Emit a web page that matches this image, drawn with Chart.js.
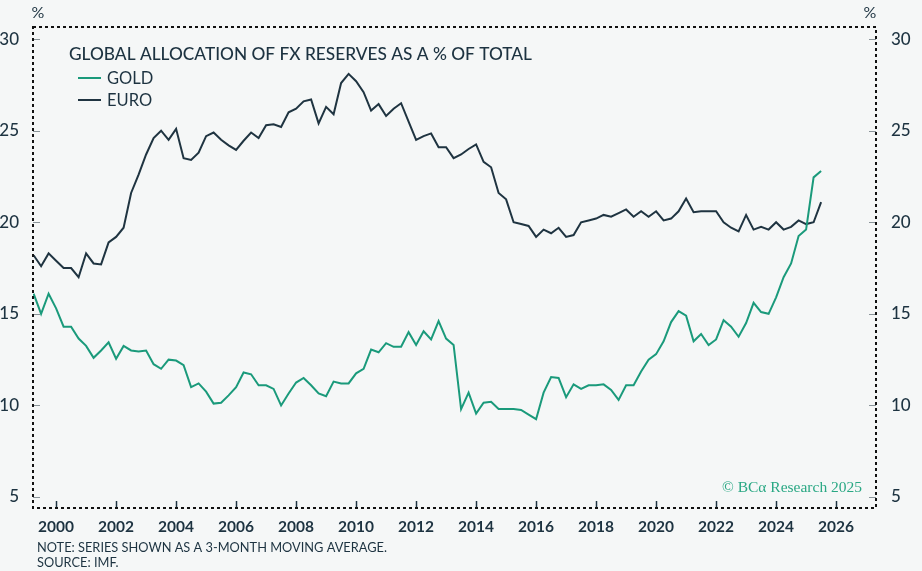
<!DOCTYPE html>
<html>
<head>
<meta charset="utf-8">
<script src="https://cdn.jsdelivr.net/npm/chart.js@4.4.1/dist/chart.umd.min.js"></script>
<style>
  html, body { margin: 0; padding: 0; background: #f5f7f7; }
  #wrap { width: 922px; height: 571px; position: relative; }
</style>
</head>
<body>
<div id="wrap"><canvas id="fxChart" width="922" height="571"></canvas></div>
<script>
// Quarterly points, first one at end of 1999Q1
const startYear = 1999.25;
const stepYears = 0.25;

const goldShare = [
  16.1, 15.0, 16.1,
  15.3, 14.3, 14.3, 13.65,
  13.25, 12.6, 13.0, 13.45,
  12.55, 13.25, 13.0, 12.95,
  13.0, 12.25, 12.0, 12.5,
  12.45, 12.2, 11.0, 11.2,
  10.75, 10.1, 10.15, 10.55,
  11.0, 11.8, 11.7, 11.1,
  11.1, 10.9, 10.0, 10.65,
  11.25, 11.5, 11.1, 10.65,
  10.5, 11.3, 11.2, 11.2,
  11.75, 12.0, 13.05, 12.9,
  13.4, 13.2, 13.2, 14.0,
  13.3, 14.05, 13.6, 14.6,
  13.65, 13.3, 9.8, 10.7,
  9.55, 10.15, 10.2, 9.8,
  9.8, 9.8, 9.75, 9.5,
  9.25, 10.7, 11.55, 11.5,
  10.45, 11.15, 10.9, 11.1,
  11.1, 11.15, 10.85, 10.3,
  11.1, 11.1, 11.85, 12.5,
  12.8, 13.5, 14.55, 15.15,
  14.9, 13.5, 13.9, 13.3,
  13.6, 14.65, 14.3, 13.75,
  14.5, 15.6, 15.1, 15.0,
  15.9, 17.0, 17.75, 19.25,
  19.6, 22.45, 22.8
];

const euroShare = [
  18.2, 17.6, 18.3,
  17.9, 17.5, 17.5, 17.0,
  18.3, 17.75, 17.7, 18.9,
  19.2, 19.7, 21.6, 22.6,
  23.7, 24.6, 25.0, 24.5,
  25.1, 23.5, 23.4, 23.8,
  24.7, 24.9, 24.5, 24.2,
  23.95, 24.45, 24.9, 24.6,
  25.3, 25.35, 25.2, 26.0,
  26.2, 26.6, 26.7, 25.4,
  26.3, 25.9, 27.6, 28.1,
  27.7, 27.1, 26.1, 26.45,
  25.8, 26.2, 26.5, 25.5,
  24.5, 24.7, 24.85, 24.1,
  24.1, 23.5, 23.7, 24.0,
  24.25, 23.3, 23.0, 21.6,
  21.25, 20.0, 19.9, 19.8,
  19.2, 19.6, 19.4, 19.7,
  19.2, 19.3, 20.0, 20.1,
  20.2, 20.4, 20.3, 20.5,
  20.7, 20.3, 20.6, 20.3,
  20.6, 20.1, 20.2, 20.6,
  21.3, 20.55, 20.6, 20.6,
  20.6, 20.0, 19.7, 19.5,
  20.4, 19.6, 19.75, 19.6,
  20.0, 19.6, 19.75, 20.1,
  19.9, 20.0, 21.1
];

const xTicks = [2000, 2002, 2004, 2006, 2008, 2010, 2012, 2014, 2016, 2018, 2020, 2022, 2024, 2026];
const yTicks = [5, 10, 15, 20, 25, 30];

const GOLD = "#1a9a7b";
const EURO = "#1f3441";
const INK = "#1d3341";
const FONT = "Lato, 'Open Sans', sans-serif";

const toPoints = arr => arr.map((v, i) => ({ x: startYear + i * stepYears, y: v }));

// frame, inward ticks, title, legend, notes
const decorations = {
  id: "decorations",
  afterDraw(chart) {
    const { ctx, chartArea: a, scales } = chart;
    ctx.save();

    // inward tick marks
    ctx.lineWidth = 1;
    ctx.strokeStyle = "#8a9499";
    yTicks.forEach(v => {
      const y = Math.round(scales.y.getPixelForValue(v)) + 0.5;
      ctx.beginPath(); ctx.moveTo(a.left, y); ctx.lineTo(a.left + 7, y); ctx.stroke();
      ctx.beginPath(); ctx.moveTo(a.right - 7, y); ctx.lineTo(a.right, y); ctx.stroke();
    });
    ctx.strokeStyle = INK;
    ctx.lineWidth = 1.5;
    xTicks.forEach(v => {
      const x = Math.round(scales.x.getPixelForValue(v)) + 0.5;
      ctx.beginPath(); ctx.moveTo(x, a.bottom); ctx.lineTo(x, a.bottom - 7); ctx.stroke();
    });

    // dotted frame
    ctx.strokeStyle = "#111";
    ctx.lineWidth = 2;
    ctx.setLineDash([3, 3]);
    ctx.strokeRect(a.left, a.top, a.right - a.left, a.bottom - a.top);
    ctx.setLineDash([]);

    // % units
    ctx.fillStyle = INK;
    ctx.font = "16px " + FONT;
    ctx.textBaseline = "middle";
    ctx.textAlign = "center";
    ctx.fillText("%", 38, 13);
    ctx.fillText("%", 870, 13);

    // title + legend
    ctx.textAlign = "left";
    ctx.font = "500 17.3px " + FONT;
    ctx.fillText("GLOBAL ALLOCATION OF FX RESERVES AS A % OF TOTAL", 69, 54);
    ctx.font = "16.5px " + FONT;
    [["GOLD", GOLD, 78], ["EURO", EURO, 100]].forEach(([label, color, y]) => {
      ctx.strokeStyle = color;
      ctx.lineWidth = 2;
      ctx.beginPath(); ctx.moveTo(78, y); ctx.lineTo(101, y); ctx.stroke();
      ctx.fillStyle = INK;
      ctx.fillText(label, 107, y + 1);
    });

    // copyright
    ctx.fillStyle = "#2aa884";
    ctx.textAlign = "right";
    ctx.font = "15.5px 'Liberation Serif', 'DejaVu Serif', serif";
    ctx.fillText("© BCα Research 2025", 862, 488);

    // notes
    ctx.fillStyle = INK;
    ctx.textAlign = "left";
    ctx.font = "12.8px " + FONT;
    ctx.fillText("NOTE: SERIES SHOWN AS A 3-MONTH MOVING AVERAGE.", 37, 548);
    ctx.fillText("SOURCE: IMF.", 37, 563);

    ctx.restore();
  }
};

new Chart(document.getElementById("fxChart"), {
  type: "line",
  data: {
    datasets: [
      { label: "GOLD", data: toPoints(goldShare), borderColor: GOLD, borderWidth: 2, pointRadius: 0, tension: 0 },
      { label: "EURO", data: toPoints(euroShare), borderColor: EURO, borderWidth: 2, pointRadius: 0, tension: 0 }
    ]
  },
  options: {
    responsive: false,
    animation: false,
    devicePixelRatio: 1,
    layout: { padding: { top: 27, left: 0, right: 0, bottom: 0 } },
    plugins: { legend: { display: false }, tooltip: { enabled: false } },
    scales: {
      x: {
        type: "linear",
        min: 1999.23,
        max: 2027.33,
        afterBuildTicks: s => { s.ticks = xTicks.map(v => ({ value: v })); },
        afterFit: s => { s.height = 63; },
        grid: { display: false },
        border: { display: false },
        ticks: {
          padding: 2,
          maxRotation: 0,
          autoSkip: false,
          color: INK,
          font: { family: FONT, size: 15.5, weight: "bold" },
          callback: v => String(v)
        }
      },
      y: {
        position: "left",
        min: 4.4,
        max: 30.66,
        afterBuildTicks: s => { s.ticks = yTicks.map(v => ({ value: v })); },
        afterFit: s => { s.width = 33; },
        grid: { display: false },
        border: { display: false },
        ticks: { padding: 6, color: INK, font: { family: FONT, size: 17, weight: "500" } }
      },
      y2: {
        position: "right",
        min: 4.4,
        max: 30.66,
        afterBuildTicks: s => { s.ticks = yTicks.map(v => ({ value: v })); },
        afterFit: s => { s.width = 46; },
        grid: { display: false },
        border: { display: false },
        ticks: { padding: 7, color: INK, font: { family: FONT, size: 17, weight: "500" } }
      }
    }
  },
  plugins: [decorations]
});
</script>
</body>
</html>
